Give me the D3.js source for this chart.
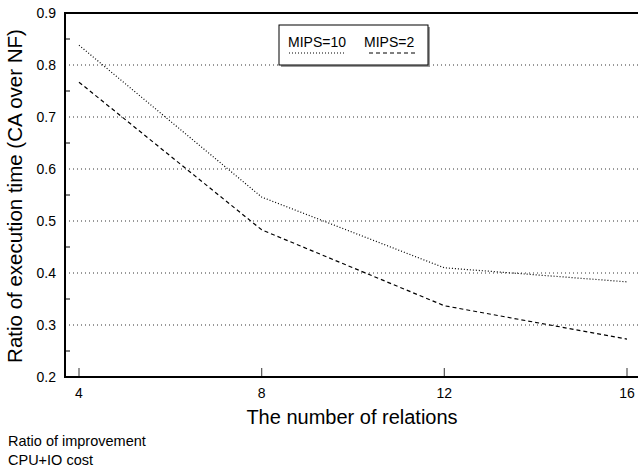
<!DOCTYPE html>
<html>
<head>
<meta charset="utf-8">
<script src="https://cdn.jsdelivr.net/npm/d3@7"></script>
<style>
  body { margin: 0; background: #fff; }
  svg { display: block; font-family: "Liberation Sans", Arial, sans-serif; }
</style>
</head>
<body>
<svg id="chart"></svg>
<script>
// data
const relations = [4, 8, 12, 16]
const mips10 = [0.838, 0.546, 0.41, 0.383]
const mips2 = [0.767, 0.483, 0.337, 0.273]
const yTicks = [0.2, 0.3, 0.4, 0.5, 0.6, 0.7, 0.8, 0.9]
const yMinor = [0.25, 0.35, 0.45, 0.55, 0.65, 0.75, 0.85]
const series = [
  { name: "MIPS=10", values: mips10, dash: "1,2" },
  { name: "MIPS=2", values: mips2, dash: "4,3" }
]

const width = 638, height = 473
const plotLeft = 65, plotRight = 638, plotTop = 13, plotBottom = 377

var svg = d3.select("#chart")
  .attr("width", width)
  .attr("height", height)

var x = d3.scaleLinear().domain([4, 16]).range([79, 627])
var y = d3.scaleLinear().domain([0.2, 0.9]).range([plotBottom, plotTop])

// dotted grid lines
svg.append("g")
  .selectAll("line")
  .data(yTicks.filter(d => d > 0.2 && d < 0.9))
  .enter().append("line")
  .attr("x1", plotLeft).attr("x2", plotRight)
  .attr("y1", d => y(d)).attr("y2", d => y(d))
  .attr("stroke", "#333")
  .attr("stroke-width", 1)
  .attr("stroke-dasharray", "1,3")

// minor y ticks
svg.append("g")
  .selectAll("line")
  .data(yMinor)
  .enter().append("line")
  .attr("x1", plotLeft).attr("x2", plotLeft + 5)
  .attr("y1", d => y(d)).attr("y2", d => y(d))
  .attr("stroke", "#000")

// x ticks (inward)
svg.append("g")
  .selectAll("line")
  .data(relations)
  .enter().append("line")
  .attr("x1", d => x(d)).attr("x2", d => x(d))
  .attr("y1", plotBottom).attr("y2", plotBottom - 9)
  .attr("stroke", "#555")
  .attr("stroke-width", 1.2)

// frame: left, bottom, top
svg.append("path")
  .attr("d", `M${plotRight},${plotTop}H${plotLeft}V${plotBottom}H${plotRight}`)
  .attr("fill", "none")
  .attr("stroke", "#000")
  .attr("stroke-width", 2)

// tick labels
svg.append("g")
  .selectAll("text")
  .data(yTicks)
  .enter().append("text")
  .attr("x", 56)
  .attr("y", d => y(d) + 5)
  .attr("text-anchor", "end")
  .attr("font-size", 14)
  .text(d => d3.format(".1f")(d))

svg.append("g")
  .selectAll("text")
  .data(relations)
  .enter().append("text")
  .attr("x", d => x(d))
  .attr("y", 398)
  .attr("text-anchor", "middle")
  .attr("font-size", 14)
  .text(d => d)

// series lines
var line = d3.line()
  .x((d, i) => x(relations[i]))
  .y(d => y(d))

svg.append("g")
  .selectAll("path")
  .data(series)
  .enter().append("path")
  .attr("d", d => line(d.values))
  .attr("fill", "none")
  .attr("stroke", "#000")
  .attr("stroke-width", 1.2)
  .attr("stroke-dasharray", d => d.dash)

// legend with shadow
var legend = svg.append("g")
legend.append("rect")
  .attr("x", 281).attr("y", 27)
  .attr("width", 149).attr("height", 40)
  .attr("fill", "#999")
legend.append("rect")
  .attr("x", 279).attr("y", 25)
  .attr("width", 149).attr("height", 40)
  .attr("fill", "#fff")
  .attr("stroke", "#000")
  .attr("stroke-width", 1)

var legendX = [288, 364]
var legendLine = [[289, 345], [369, 417]]
series.forEach((s, i) => {
  legend.append("text")
    .attr("x", legendX[i]).attr("y", 47)
    .attr("font-size", 14)
    .text(s.name)
  legend.append("line")
    .attr("x1", legendLine[i][0]).attr("x2", legendLine[i][1])
    .attr("y1", 53).attr("y2", 53)
    .attr("stroke", "#000")
    .attr("stroke-width", 1.2)
    .attr("stroke-dasharray", s.dash)
})

// axis titles
svg.append("text")
  .attr("x", 352).attr("y", 424)
  .attr("text-anchor", "middle")
  .attr("font-size", 20)
  .text("The number of relations")

svg.append("text")
  .attr("transform", "translate(22,196) rotate(-90)")
  .attr("text-anchor", "middle")
  .attr("font-size", 20.5)
  .text("Ratio of execution time (CA over NF)")

// notes under the chart
svg.append("text")
  .attr("x", 8).attr("y", 446)
  .attr("font-size", 14.5)
  .text("Ratio of improvement")
svg.append("text")
  .attr("x", 8).attr("y", 465)
  .attr("font-size", 14.5)
  .text("CPU+IO cost")
</script>
</body>
</html>
